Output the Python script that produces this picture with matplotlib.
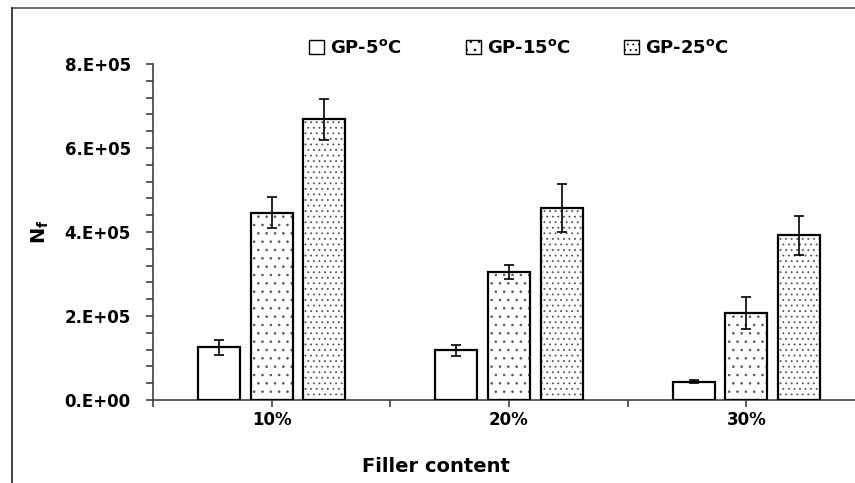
import numpy as np
import matplotlib
matplotlib.use('Agg')
import matplotlib.pyplot as plt
from matplotlib.lines import Line2D
from matplotlib.patches import Patch

plt.rcParams['font.family'] = ['DejaVu Sans']
plt.rcParams['font.weight'] = 'bold'
plt.rcParams['mathtext.fontset'] = 'dejavusans'
plt.rcParams['mathtext.default'] = 'bf'
plt.rcParams['hatch.linewidth'] = 0.6

# data
categories = ['10%', '20%', '30%']
series = [r'GP-5$^{\mathbf{o}}$C', r'GP-15$^{\mathbf{o}}$C', r'GP-25$^{\mathbf{o}}$C']
nf_5 = [1.26e5, 1.18e5, 0.44e5]
nf_15 = [4.46e5, 3.04e5, 2.08e5]
nf_25 = [6.68e5, 4.57e5, 3.92e5]
err_5 = [0.18e5, 0.14e5, 0.03e5]
err_15 = [0.37e5, 0.17e5, 0.38e5]
err_25 = [0.48e5, 0.58e5, 0.46e5]
ytick_vals = [0, 2e5, 4e5, 6e5, 8e5]
ytick_labels = ['0.E+00', '2.E+05', '4.E+05', '6.E+05', '8.E+05']

axis_col = '#404040'
W, H = 855, 483
fig = plt.figure(figsize=(W / 100, H / 100), dpi=100)
ax = fig.add_axes([153 / W, 1 - 400 / H, (865 - 153) / W, (400 - 64) / H])

x = np.arange(len(categories)) + 0.5
bw = 0.177
step = 0.2215
hatches = [None, '..', '...']
vals = [nf_5, nf_15, nf_25]
errs = [err_5, err_15, err_25]

handles = []
for i in range(3):
    pos = x + (i - 1) * step
    if hatches[i]:
        ax.bar(pos, vals[i], bw, color='white', edgecolor='#555555', hatch=hatches[i], linewidth=0, zorder=2)
    ax.bar(pos, vals[i], bw, color='none' if hatches[i] else 'white', edgecolor='black', linewidth=1.6, zorder=3)
    ax.errorbar(pos, vals[i], yerr=errs[i], fmt='none', ecolor='black', elinewidth=1.2, capsize=3.6, capthick=1.2, zorder=4)
    handles.append(Patch(facecolor='white', edgecolor='black', hatch=hatches[i], linewidth=1.0, label=series[i]))

ax.set_xlim(0, 3)
ax.set_ylim(0, 8e5)
ax.set_xticks(np.arange(0, 3.01, 0.5))
ax.set_xticklabels(['', categories[0], '', categories[1], '', categories[2], ''])
ax.set_yticks(ytick_vals)
ax.set_yticklabels(ytick_labels)
ax.set_yticks(np.arange(0, 8.01e5, 0.4e5), minor=True)
ax.tick_params(axis='both', labelsize=12, colors=axis_col, labelcolor='black', width=1.2, length=5)
ax.tick_params(axis='y', which='minor', colors=axis_col, width=1.2, length=5)
ax.tick_params(axis='x', pad=3)
ax.tick_params(axis='y', pad=11)
for lbl in ax.get_xticklabels() + ax.get_yticklabels():
    lbl.set_fontweight('bold')
for s in ['top', 'right']:
    ax.spines[s].set_visible(False)
for s in ['left', 'bottom']:
    ax.spines[s].set_color(axis_col)
    ax.spines[s].set_linewidth(1.2)

fig.text(40 / W, 1 - 232 / H, r'N$_\mathbf{f}$', rotation=90, ha='center', va='center', fontsize=14, fontweight='bold')
fig.text(436 / W, 1 - 467 / H, 'Filler content', ha='center', va='center', fontsize=14, fontweight='bold')

# one legend per entry so the entries are evenly spaced like the original
legend_x = [309, 466, 624]
for hx, h in zip(legend_x, handles):
    lg = fig.legend(handles=[h], loc='center left', bbox_to_anchor=(hx / W, 1 - 48 / H), frameon=False,
                    fontsize=13, handlelength=0.85, handleheight=0.85, handletextpad=0.3,
                    borderpad=0, borderaxespad=0)

# chart frame remnants (cropped)
fig.add_artist(Line2D([12 / W, 1], [1 - 8 / H, 1 - 8 / H], color='#555555', linewidth=1.2))
fig.add_artist(Line2D([12 / W, 12 / W], [0, 1 - 8 / H], color='#222222', linewidth=1.2))

fig.savefig('out.png', dpi=100)
